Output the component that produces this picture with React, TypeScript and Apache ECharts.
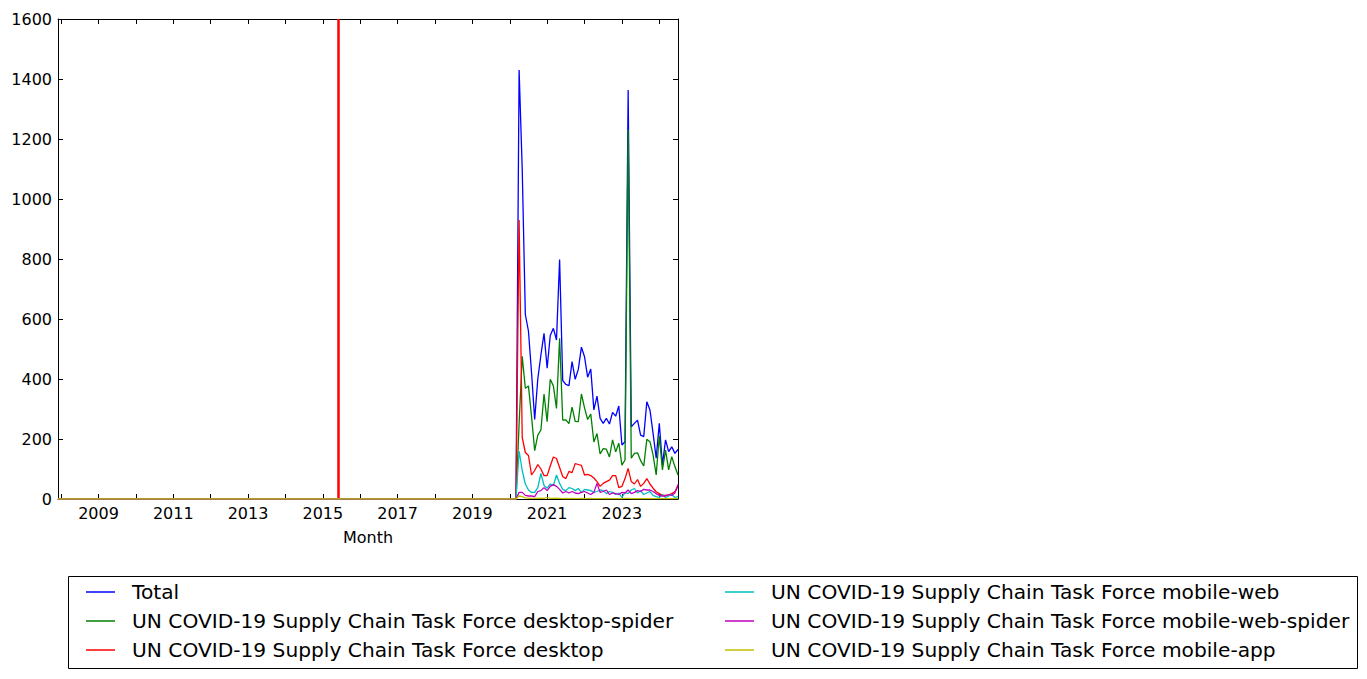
import React, { useEffect, useRef } from "react";
import * as echarts from "echarts";

// ---- Data (monthly page views) ----
const firstMonth = "2007-12";
const lastMonth = "2024-07";
const eventMonth = "2015-06";

const activeMonths = [
  "2020-03", "2020-04", "2020-05", "2020-06", "2020-07", "2020-08", "2020-09", "2020-10", "2020-11", "2020-12",
  "2021-01", "2021-02", "2021-03", "2021-04", "2021-05", "2021-06", "2021-07", "2021-08", "2021-09", "2021-10", "2021-11", "2021-12",
  "2022-01", "2022-02", "2022-03", "2022-04", "2022-05", "2022-06", "2022-07", "2022-08", "2022-09", "2022-10", "2022-11", "2022-12",
  "2023-01", "2023-02", "2023-03", "2023-04", "2023-05", "2023-06", "2023-07", "2023-08", "2023-09", "2023-10", "2023-11", "2023-12",
  "2024-01", "2024-02", "2024-03", "2024-04", "2024-05", "2024-06", "2024-07",
];

const total = [
  0, 1430, 1100, 615, 560, 420, 265, 400, 480, 552,
  436, 545, 569, 530, 798, 395, 382, 378, 458, 399, 432, 506,
  474, 406, 433, 297, 343, 269, 252, 269, 250, 289, 276, 310,
  180, 191, 1363, 241, 252, 263, 213, 208, 324, 297, 219, 136,
  252, 113, 197, 158, 174, 152, 165,
];
const desktopSpider = [
  0, 250, 476, 369, 377, 274, 161, 213, 230, 350,
  258, 399, 377, 302, 536, 263, 264, 251, 306, 259, 258, 350,
  304, 265, 283, 190, 218, 150, 168, 166, 140, 197, 157, 186,
  113, 130, 1232, 136, 152, 154, 128, 110, 199, 191, 147, 80,
  210, 97, 163, 97, 141, 108, 80,
];
const desktop = [
  0, 930, 205, 155, 145, 80, 95, 115, 100, 78,
  78, 110, 140, 135, 105, 75, 68, 92, 88, 118, 115, 112,
  80, 82, 78, 70, 58, 42, 52, 58, 63, 78, 78, 38,
  42, 68, 102, 58, 50, 65, 42, 52, 68, 50, 36, 24,
  18, 13, 12, 14, 18, 24, 42,
];
const mobileWeb = [
  0, 160, 95, 50, 30, 22, 22, 38, 85, 45,
  36, 50, 45, 80, 52, 32, 28, 38, 35, 28, 35, 22,
  32, 30, 28, 22, 25, 30, 28, 18, 25, 22, 15, 20,
  5, 22, 18, 30, 35, 20, 28, 15, 20, 25, 12, 8,
  5, 15, 5, 10, 15, 5, 8,
];
const mobileWebSpider = [
  0, 22, 22, 12, 10, 10, 8, 25, 28, 38,
  28, 42, 48, 42, 32, 20, 25, 20, 25, 20, 18, 22,
  25, 20, 15, 22, 52, 22, 25, 30, 15, 20, 18, 15,
  22, 20, 30, 18, 22, 28, 25, 32, 30, 30, 25, 18,
  12, 10, 10, 15, 12, 20, 48,
];
const mobileApp = [
  0, 10, 8, 4, 3, 2, 2, 2, 3, 2,
  5, 2, 2, 3, 2, 1, 2, 1, 2, 1, 1, 2,
  1, 1, 2, 1, 1, 1, 1, 2, 1, 1, 1, 1,
  1, 2, 2, 1, 1, 1, 1, 1, 1, 1, 1, 1,
  1, 1, 1, 1, 1, 1, 1,
];

const seriesNames = [
  "Total",
  "UN COVID-19 Supply Chain Task Force desktop-spider",
  "UN COVID-19 Supply Chain Task Force desktop",
  "UN COVID-19 Supply Chain Task Force mobile-web",
  "UN COVID-19 Supply Chain Task Force mobile-web-spider",
  "UN COVID-19 Supply Chain Task Force mobile-app",
];
const seriesColors = ["#0000ff", "#008000", "#ff0000", "#00bfbf", "#bf00bf", "#bfbf00"];
const seriesValues = [total, desktopSpider, desktop, mobileWeb, mobileWebSpider, mobileApp];

const yearTicks = [2008, 2009, 2010, 2011, 2012, 2013, 2014, 2015, 2016, 2017, 2018, 2019, 2020, 2021, 2022, 2023, 2024];
const yearLabels = [2009, 2011, 2013, 2015, 2017, 2019, 2021, 2023];

// month "YYYY-MM" -> fractional year (uniform months, like a monthly period axis)
const toYear = (m: string) => {
  const [y, mo] = m.split("-").map(Number);
  return y + (mo - 1) / 12;
};

const FONT = "DejaVu Sans";

export default function App() {
  const ref = useRef<HTMLDivElement>(null);

  useEffect(() => {
    document.body.style.margin = "0";
    if (!ref.current) return;
    const chart = echarts.init(ref.current, undefined, { renderer: "svg" });

    const xMin = toYear(firstMonth);
    const xMax = toYear(lastMonth);

    const series: any[] = seriesValues.map((vals, i) => ({
      name: seriesNames[i],
      type: "line",
      symbol: "none",
      showSymbol: false,
      lineStyle: { color: seriesColors[i], width: 1.3 },
      itemStyle: { color: seriesColors[i] },
      data: [[xMin, 0], ...activeMonths.map((m, k) => [toYear(m), vals[k]])],
      z: 2 + i,
    }));
    series[series.length - 1].markLine = {
      silent: true,
      symbol: "none",
      label: { show: false },
      lineStyle: { color: "#ff0000", width: 2.5, type: "solid" },
      data: [{ xAxis: toYear(eventMonth) }],
    };

    const tick = { show: true, inside: true, length: 5, lineStyle: { color: "#000", width: 1 } };
    const axisLine = { show: true, onZero: false, lineStyle: { color: "#000", width: 1 } };

    const legendCommon = {
      orient: "vertical",
      top: 577,
      itemWidth: 29,
      itemHeight: 1.5,
      itemGap: 9,
      icon: "rect",
      textStyle: { fontFamily: FONT, fontSize: 20.2, color: "#000", lineHeight: 20, padding: [0, 0, 0, 12] },
    };

    chart.setOption({
      animation: false,
      backgroundColor: "#fff",
      grid: { left: 58, top: 19, width: 620, height: 480, containLabel: false },
      xAxis: [
        {
          type: "value",
          min: xMin,
          max: xMax,
          position: "bottom",
          axisLine,
          axisTick: { ...tick, customValues: yearTicks },
          axisLabel: {
            customValues: yearLabels,
            formatter: (v: number) => String(Math.round(v)),
            fontFamily: FONT,
            fontSize: 16,
            color: "#000",
            margin: 6,
          },
          splitLine: { show: false },
          name: "Month",
          nameLocation: "middle",
          nameGap: 30,
          nameTextStyle: { fontFamily: FONT, fontSize: 16, color: "#000" },
        },
        {
          type: "value",
          min: xMin,
          max: xMax,
          position: "top",
          axisLine,
          axisTick: { ...tick, customValues: yearTicks },
          axisLabel: { show: false },
          splitLine: { show: false },
        },
      ],
      yAxis: [
        {
          type: "value",
          min: 0,
          max: 1600,
          interval: 200,
          position: "left",
          axisLine,
          axisTick: tick,
          axisLabel: {
            formatter: (v: number) => String(v),
            fontFamily: FONT,
            fontSize: 16,
            color: "#000",
            margin: 6,
          },
          splitLine: { show: false },
        },
        {
          type: "value",
          min: 0,
          max: 1600,
          interval: 200,
          position: "right",
          axisLine,
          axisTick: tick,
          axisLabel: { show: false },
          splitLine: { show: false },
        },
      ],
      legend: [
        { ...legendCommon, left: 81, data: seriesNames.slice(0, 3) },
        { ...legendCommon, left: 720, data: seriesNames.slice(3) },
      ],
      graphic: [
        {
          type: "rect",
          shape: { x: 68.5, y: 576.5, width: 1289, height: 92 },
          style: { fill: "none", stroke: "#000", lineWidth: 1 },
          silent: true,
          z: 0,
        },
      ],
      series,
    });

    return () => chart.dispose();
  }, []);

  return <div ref={ref} style={{ position: "absolute", left: 0, top: 0, width: 1367, height: 679 }} />;
}
